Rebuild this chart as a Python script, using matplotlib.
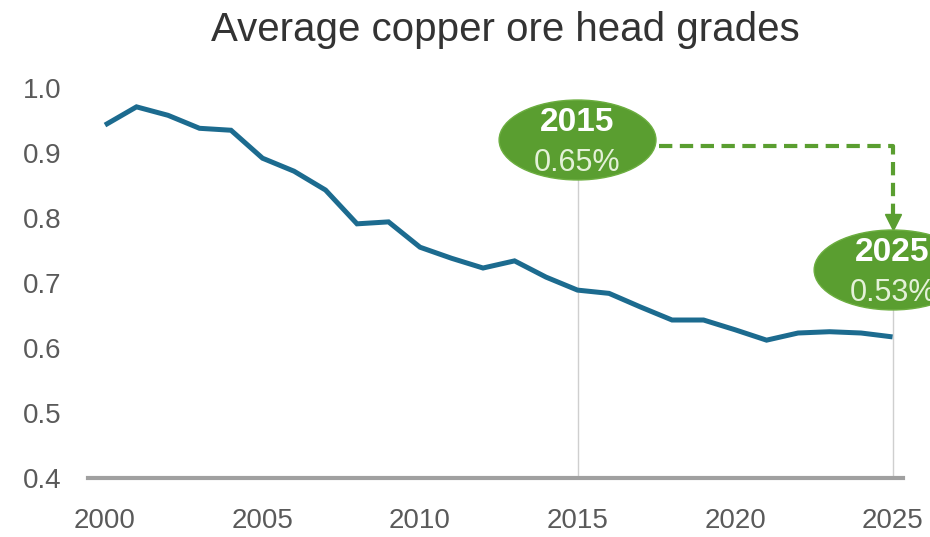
import matplotlib
matplotlib.use("Agg")
import matplotlib.pyplot as plt
from matplotlib.patches import Ellipse

plt.rcParams["font.family"] = ["Liberation Sans", "DejaVu Sans"]

# Average head grade by year (%)
years = list(range(2000, 2026))
grades = [
    0.943, 0.971, 0.958, 0.938, 0.935, 0.892, 0.872, 0.843, 0.791, 0.794,
    0.755, 0.738, 0.723, 0.734, 0.709, 0.689, 0.684, 0.663, 0.643, 0.643,
    0.628, 0.612, 0.623, 0.625, 0.623, 0.617,
]

callout_years = [2015, 2025]
callout_labels = ["0.65%", "0.53%"]

x_ticks = [2000, 2005, 2010, 2015, 2020, 2025]
y_ticks = [0.4, 0.5, 0.6, 0.7, 0.8, 0.9, 1.0]

LINE_BLUE = "#1c6b8f"
GREEN = "#5a9e30"
GRID_GREY = "#cfcfcf"
TEXT_GREY = "#5a5a5a"

fig = plt.figure(figsize=(9.3, 5.37), dpi=100)
ax = fig.add_axes([0.0946, 0.110, 0.876, 0.760])

ax.plot(years, grades, color=LINE_BLUE, lw=3.6, solid_joinstyle="miter",
        solid_capstyle="butt", zorder=3)

ax.set_xlim(1999.46, 2025.32)
ax.set_ylim(0.4, 1.028)
ax.set_xticks(x_ticks)
ax.set_yticks(y_ticks)
ax.set_yticklabels([f"{v:.1f}" for v in y_ticks])
ax.tick_params(length=0, labelsize=20, labelcolor=TEXT_GREY)
ax.tick_params(axis="x", pad=22)
ax.tick_params(axis="y", pad=19)

for side in ["top", "right", "left"]:
    ax.spines[side].set_visible(False)
ax.spines["bottom"].set_color("#a0a0a0")
ax.spines["bottom"].set_linewidth(3)

# callout bubbles
bubble_y = [0.92, 0.72]
for yr, lab, cy in zip(callout_years, callout_labels, bubble_y):
    ax.plot([yr, yr], [0.4, cy - 0.06], color=GRID_GREY, lw=1, zorder=1)
    ax.add_patch(Ellipse((yr, cy), 4.98, 0.123, facecolor=GREEN,
                         edgecolor="#6cae40", lw=1, zorder=4, clip_on=False))
    ax.text(yr, cy + 0.027, str(yr), ha="center", va="center",
            fontsize=24, fontweight="bold", color="white", zorder=5,
            clip_on=False)
    ax.text(yr, cy - 0.036, lab, ha="center", va="center",
            fontsize=22, color="#e4f1d8", zorder=5, clip_on=False)

# dashed connector between the two bubbles
conn_y = 0.911
ax.plot([2017.6, 2025, 2025], [conn_y, conn_y, 0.80], color=GREEN, lw=3,
        ls=(0, (3.2, 1.8)), zorder=2, clip_on=False)
ax.plot([2025], [0.794], marker="v", markersize=11, color=GREEN,
        zorder=2, clip_on=False)

fig.text(505 / 930, 1 - 30 / 537, "Average copper ore head grades",
         ha="center", va="center", fontsize=29, color="#333333")

fig.savefig("out.png", dpi=100)
